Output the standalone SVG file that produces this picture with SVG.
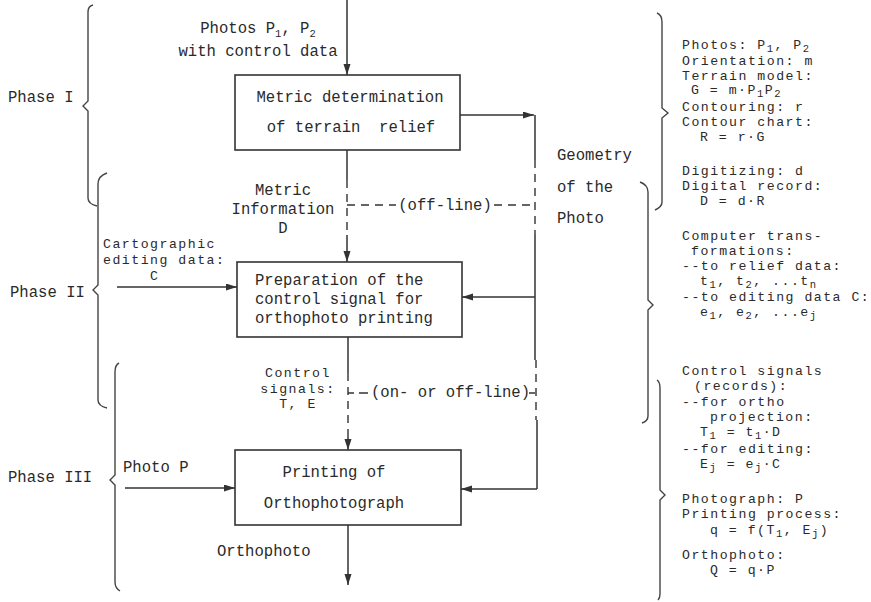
<svg xmlns="http://www.w3.org/2000/svg" width="871" height="602" viewBox="0 0 871 602">
<style>
text{font-family:"Liberation Mono","DejaVu Sans Mono",monospace;font-size:15.6px;fill:#2a2a2a}
.t{font-size:13.2px;letter-spacing:1.5px}
.s{font-size:10.5px}
.m{text-anchor:middle}
.box{fill:#fff;stroke:#333;stroke-width:1.6}
.ln{fill:none;stroke:#333;stroke-width:1.5}
.dash{fill:none;stroke:#333;stroke-width:1.4;stroke-dasharray:8 6}
.br{fill:none;stroke:#444;stroke-width:1.4}
</style>
<defs>
<marker id="ah" markerUnits="userSpaceOnUse" markerWidth="12" markerHeight="8" refX="11" refY="3.5" orient="auto">
<path d="M0,0 L11,3.5 L0,7 z" fill="#333"/>
</marker>
</defs>
<rect width="871" height="602" fill="#fff"/>

<g id="connectors">
<line class="ln" x1="347" y1="0" x2="347" y2="75" marker-end="url(#ah)"/>
<line class="ln" x1="347" y1="150" x2="347" y2="180"/>
<line class="dash" x1="347" y1="180" x2="347" y2="235"/>
<line class="ln" x1="347" y1="235" x2="347" y2="262" marker-end="url(#ah)"/>
<line class="dash" x1="347" y1="205" x2="396" y2="205"/>
<line class="dash" x1="494" y1="205" x2="535" y2="205"/>
<line class="ln" x1="348" y1="337" x2="348" y2="373"/>
<line class="dash" x1="348" y1="373" x2="348" y2="437"/>
<line class="ln" x1="348" y1="437" x2="348" y2="450" marker-end="url(#ah)"/>
<line class="ln" x1="348" y1="393" x2="354" y2="393"/>
<line class="ln" x1="359" y1="393" x2="368" y2="393"/>
<line class="ln" x1="529" y1="393" x2="535" y2="393"/>
<line class="ln" x1="348" y1="525" x2="348" y2="585" marker-end="url(#ah)"/>
<line class="ln" x1="460" y1="115" x2="534" y2="115" marker-end="url(#ah)"/>
<line class="ln" x1="535" y1="115" x2="535" y2="160"/>
<line class="dash" x1="535" y1="160" x2="535" y2="235"/>
<line class="ln" x1="535" y1="235" x2="535" y2="360"/>
<line class="dash" x1="536" y1="360" x2="536" y2="420"/>
<line class="ln" x1="537" y1="420" x2="537" y2="489"/>
<line class="ln" x1="535" y1="297" x2="462" y2="297" marker-end="url(#ah)"/>
<line class="ln" x1="537" y1="489" x2="461" y2="489" marker-end="url(#ah)"/>
<line class="ln" x1="117" y1="287" x2="237" y2="287" marker-end="url(#ah)"/>
<line class="ln" x1="125" y1="488" x2="235" y2="488" marker-end="url(#ah)"/>
</g>

<g id="box1">
<rect class="box" x="235" y="75" width="225" height="75"/>
<text class="m" x="350" y="102">Metric determination</text>
<text class="m" x="351" y="132" xml:space="preserve">of terrain  relief</text>
</g>

<g id="box2">
<rect class="box" x="237" y="262" width="225" height="75"/>
<text x="255" y="285">Preparation of the</text>
<text x="255" y="304">control signal for</text>
<text x="255" y="323">orthophoto printing</text>
</g>

<g id="box3">
<rect class="box" x="235" y="450" width="226" height="75"/>
<text class="m" x="334" y="477">Printing of</text>
<text class="m" x="334" y="508">Orthophotograph</text>
</g>

<g id="labels">
<text class="m" x="258" y="33">Photos P<tspan class="s" dy="4">1</tspan><tspan dy="-4">, P</tspan><tspan class="s" dy="4">2</tspan></text>
<text class="m" x="258" y="56">with control data</text>
<text class="m" x="283" y="195">Metric</text>
<text class="m" x="283" y="214">Information</text>
<text class="m" x="283" y="233">D</text>
<text class="m" x="445" y="210">(off-line)</text>
<text class="t" x="103" y="248">Cartographic</text>
<text class="t" x="103" y="264">editing data:</text>
<text class="t" x="150" y="280">C</text>
<text class="t m" x="298" y="377">Control</text>
<text class="t m" x="298" y="393">signals:</text>
<text class="t m" x="298" y="408">T, E</text>
<text x="371" y="397">(on- or off-line)</text>
<text x="123" y="472">Photo P</text>
<text x="217" y="556">Orthophoto</text>
<text x="557" y="160">Geometry</text>
<text x="557" y="192">of the</text>
<text x="557" y="223">Photo</text>
</g>

<g id="phases">
<text x="8" y="102">Phase I</text>
<path class="br" d="M93,5 Q88,6 88,12 V101 L83,106 L88,111 V198 Q88,204 97,206"/>
<text x="10" y="297">Phase II</text>
<path class="br" d="M107,173 Q98,176 98,184 V285 L93,290 L98,295 V400 Q98,406 107,408"/>
<text x="8" y="482">Phase III</text>
<path class="br" d="M119,363 Q115,365 115,372 V475 L110,480 L115,485 V582 Q115,588 120,591"/>
</g>

<g id="right-notes">
<path class="br" d="M657,13 Q662,15 662,22 V108 L668,113 L662,118 V202 Q662,207 655,210"/>
<path class="br" d="M640,182 Q648,185 648,192 V300 L653,305 L648,310 V416 Q648,421 642,423"/>
<path class="br" d="M657,380 Q660,382 660,388 V490 L665,495 L660,500 V594 Q660,598 658,600"/>
<text class="t" x="682" y="49">Photos: P<tspan class="s" dy="3">1</tspan><tspan dy="-3">, P</tspan><tspan class="s" dy="3">2</tspan></text>
<text class="t" x="682" y="65">Orientation: m</text>
<text class="t" x="682" y="80">Terrain model:</text>
<text class="t" x="691" y="94">G = m·P<tspan class="s" dy="2.5">1</tspan><tspan dy="-2.5">P</tspan><tspan class="s" dy="2.5">2</tspan></text>
<text class="t" x="682" y="111">Contouring: r</text>
<text class="t" x="682" y="126">Contour chart:</text>
<text class="t" x="700" y="141">R = r·G</text>
<text class="t" x="682" y="175">Digitizing: d</text>
<text class="t" x="682" y="190">Digital record:</text>
<text class="t" x="700" y="205">D = d·R</text>
<text class="t" x="682" y="240">Computer trans-</text>
<text class="t" x="691" y="255">formations:</text>
<text class="t" x="682" y="270">--to relief data:</text>
<text class="t" x="700" y="285">t<tspan class="s" dy="3">1</tspan><tspan dy="-3">, t</tspan><tspan class="s" dy="3">2</tspan><tspan dy="-3">, ...t</tspan><tspan class="s" dy="3">n</tspan></text>
<text class="t" x="682" y="301">--to editing data C:</text>
<text class="t" x="700" y="316">e<tspan class="s" dy="3">1</tspan><tspan dy="-3">, e</tspan><tspan class="s" dy="3">2</tspan><tspan dy="-3">, ...e</tspan><tspan class="s" dy="3">j</tspan></text>
<text class="t" x="682" y="375">Control signals</text>
<text class="t" x="694" y="390">(records):</text>
<text class="t" x="682" y="406">--for ortho</text>
<text class="t" x="710" y="421">projection:</text>
<text class="t" x="700" y="436">T<tspan class="s" dy="3">1</tspan><tspan dy="-3"> = t</tspan><tspan class="s" dy="3">1</tspan><tspan dy="-3">·D</tspan></text>
<text class="t" x="682" y="453">--for editing:</text>
<text class="t" x="700" y="468">E<tspan class="s" dy="3">j</tspan><tspan dy="-3"> = e</tspan><tspan class="s" dy="3">j</tspan><tspan dy="-3">·C</tspan></text>
<text class="t" x="682" y="503">Photograph: P</text>
<text class="t" x="682" y="518">Printing process:</text>
<text class="t" x="710" y="534">q = f(T<tspan class="s" dy="3">1</tspan><tspan dy="-3">, E</tspan><tspan class="s" dy="3">j</tspan><tspan dy="-3">)</tspan></text>
<text class="t" x="682" y="559">Orthophoto:</text>
<text class="t" x="710" y="574">Q = q·P</text>
</g>
</svg>
